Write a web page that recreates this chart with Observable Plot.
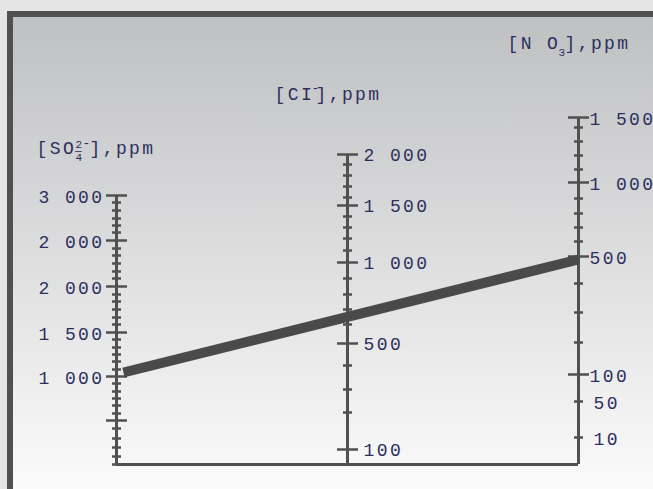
<!DOCTYPE html>
<html>
<head>
<meta charset="utf-8">
<script src="https://cdn.jsdelivr.net/npm/d3@7"></script>
<script src="https://cdn.jsdelivr.net/npm/@observablehq/plot@0.6"></script>
<style>
  html, body { margin: 0; padding: 0; width: 653px; height: 489px; overflow: hidden; background: #e5e5e5; }
  #panel { position: absolute; left: 7px; top: 11px; width: 720px; height: 540px;
    border-left: 6px solid #505050; border-top: 6px solid #505050;
    background: linear-gradient(to bottom, #bfc0c2 0px, #fbfbfb 475px, #fbfbfb 540px); }
  #chart { position: absolute; left: 0; top: 0; }
  #chart text { letter-spacing: 2.4px; }
  #chart g[aria-label="right-labels"] text { letter-spacing: 1.6px; }
  #chart g[aria-label="title-head"] text { letter-spacing: 0px; }
  #chart g[aria-label="title-tail"] text { letter-spacing: 5px; }
  #chart g[aria-label="title-small"] text { letter-spacing: 0px; }
</style>
</head>
<body>
<div id="panel"></div>
<div id="chart"></div>
<script>
// ---- Nomogram data (positions on the common nomogram height scale, 0 = base line) ----
const axisX = [0, 1, 2];               // SO4, Cl, NO3 axes
const axisTop = [269, 310, 347];

// [SO4 2-] axis
const so4Labels = ["3 000", "2 000", "2 000", "1 500", "1 000", ""];
const so4Pos = [269, 224, 178, 132, 88, 44];
const so4MinorPos = [262, 254, 246, 239, 232, 216, 209, 201, 193, 186, 170, 163, 155, 147, 140,
                     125, 117, 110, 103, 95, 81, 73, 66, 59, 51, 36, 26, 17, 8, 0];

// [Cl-] axis
const clLabels = ["2 000", "1 500", "1 000", "500", "100"];
const clPos = [310, 259, 202, 121, 15];
const clMinorPos = [300, 289, 278, 267, 248, 237, 226, 214, 186, 170, 155, 140, 99, 75, 52];

// [NO3] axis
const no3Labels = ["1 500", "1 000", "500", "100"];
const no3Pos = [347, 282, 208, 90];
const no3MinorPos = [337, 323, 309, 295, 266, 251, 237, 223, 181, 152, 122];
const no3SmallLabels = ["50", "10"];
const no3SmallPos = [63, 27];

// reading line across the nomogram
const readingX = [0.03, 2];
const readingPos = [92, 205];

// axis titles (pieces)
const so4Title = ["[SO", "2", "\u2014", "4", "-", "],ppm"];
const clTitle = ["[CI", "-", "],ppm"];
const no3Title = ["[N O", "3", "],ppm"];

// ---- styles ----
const ink = "#505050";
const textColor = "#2c2f5e";
const font = {fontFamily: "Liberation Mono", fill: textColor, fontSize: 18};
const hTick = { draw(ctx, size) { const r = Math.sqrt(size / Math.PI); ctx.moveTo(-r, 0); ctx.lineTo(r, 0); } };
const tickStyle = {symbol: hTick, fill: "none", stroke: ink, strokeWidth: 2.5};

function ticks(pos, axis, r) {
  return Plot.dot(pos, {x: () => axis, y: d => d, r, ...tickStyle});
}
function piece(text, axis, dx, dy, extra) {
  return Plot.text([text], {x: () => axis, y: () => axisTop[axis], text: d => d,
    textAnchor: "start", dx, dy, ...font, ...extra});
}

const chart = Plot.plot({
  width: 653, height: 489,
  marginLeft: 116, marginRight: 75, marginTop: 117, marginBottom: 25,
  x: {domain: [0, 2], axis: null},
  y: {domain: [0, 347], axis: null},
  style: "background: transparent; overflow: visible;",
  marks: [
    // axis lines
    Plot.ruleX(axisX, {x: d => d, y1: 0, y2: (d, i) => axisTop[i], stroke: ink, strokeWidth: 3}),
    // base line
    Plot.ruleY([0], {x1: 0, x2: 2, stroke: ink, strokeWidth: 3}),
    // ticks
    ticks(so4Pos, 0, 10.5), ticks(so4MinorPos, 0, 4.5),
    ticks(clPos, 1, 10.5), ticks(clMinorPos, 1, 4.5),
    ticks(no3Pos, 2, 10.5), ticks(no3MinorPos, 2, 4.5), ticks(no3SmallPos, 2, 4.5),
    // reading line
    Plot.line(readingX.map((x, i) => ({x, y: readingPos[i]})), {x: "x", y: "y", stroke: "#4a4a4a", strokeWidth: 10, strokeLinecap: "butt"}),
    // tick labels
    Plot.text(so4Labels, {x: () => 0, y: (d, i) => so4Pos[i], text: d => d, textAnchor: "end", dx: -12, dy: 1.5, ...font}),
    Plot.text(clLabels, {x: () => 1, y: (d, i) => clPos[i], text: d => d, textAnchor: "start", dx: 16, dy: 1, ...font}),
    Plot.text(no3Labels, {x: () => 2, y: (d, i) => no3Pos[i], text: d => d, textAnchor: "start", dx: 11, dy: 2, ariaLabel: "right-labels", ...font}),
    Plot.text(no3SmallLabels, {x: () => 2, y: (d, i) => no3SmallPos[i], text: d => d, textAnchor: "start", dx: 15, dy: 1.5, ...font}),
    // titles
    piece(so4Title[0], 0, -80, -47, {ariaLabel: "title-head"}),
    piece(so4Title[1], 0, -41, -51.5, {ariaLabel: "title-small", fontSize: 11}),
    piece(so4Title[2], 0, -41.5, -45.5, {ariaLabel: "title-small", fontSize: 11}),
    piece(so4Title[3], 0, -41, -38.5, {ariaLabel: "title-small", fontSize: 11}),
    piece(so4Title[4], 0, -34, -53, {ariaLabel: "title-small", fontSize: 13}),
    piece(so4Title[5], 0, -27, -47, {ariaLabel: "title-tail"}),
    piece(clTitle[0], 1, -73, -60.5, {ariaLabel: "title-head"}),
    piece(clTitle[1], 1, -36, -67, {ariaLabel: "title-small", fontSize: 13}),
    piece(clTitle[2], 1, -32, -60.5, {ariaLabel: "title-tail"}),
    piece(no3Title[0], 2, -71, -74.5, {ariaLabel: "title-head"}),
    piece(no3Title[1], 2, -20, -65, {ariaLabel: "title-small", fontSize: 11}),
    piece(no3Title[2], 2, -14, -74.5, {ariaLabel: "title-tail"})
  ]
});
document.getElementById("chart").appendChild(chart);
</script>
</body>
</html>
